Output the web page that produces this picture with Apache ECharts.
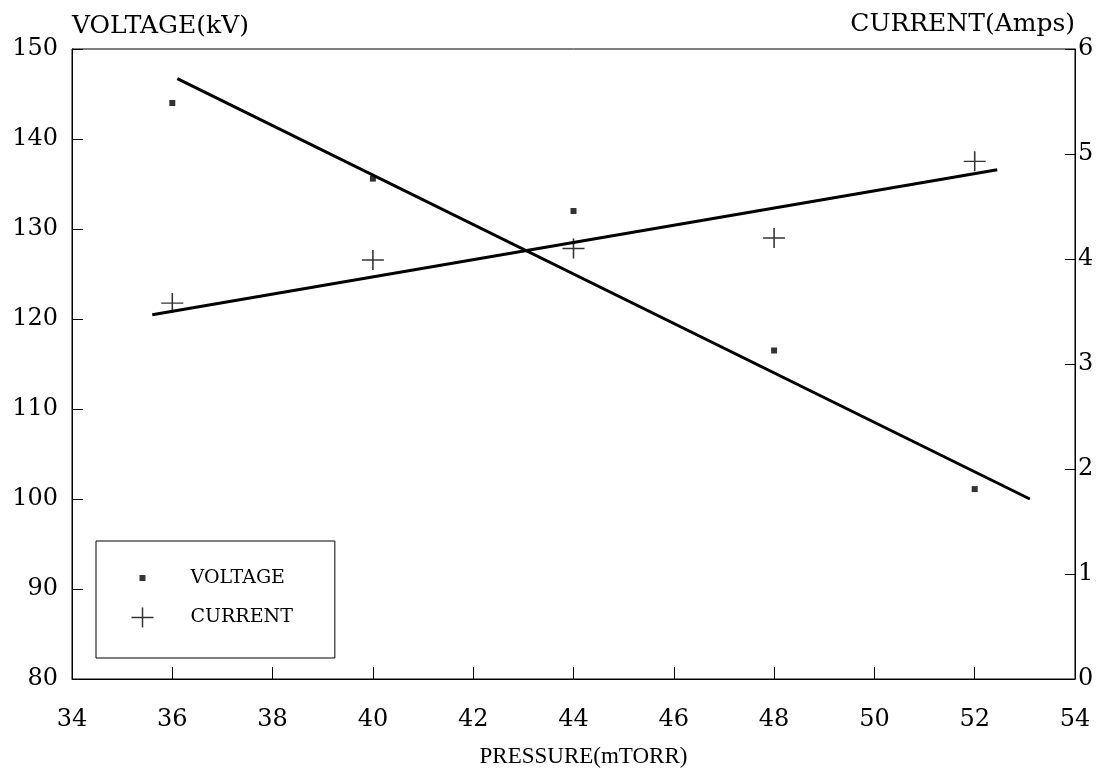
<!DOCTYPE html>
<html>
<head>
<meta charset="utf-8">
<script src="https://cdn.jsdelivr.net/npm/echarts@6/dist/echarts.min.js"></script>
<style>
  html, body { margin: 0; padding: 0; background: #fff; }
  #chart { width: 1113px; height: 777px; }
</style>
</head>
<body>
<div id="chart"></div>
<script>
// measured points
const pressure = [36, 40, 44, 48, 52];
const voltage = [144.0, 135.6, 132.0, 116.5, 101.1];
const current = [3.58, 3.99, 4.10, 4.20, 4.93];

// fitted lines (end points)
const voltageFitX = [36.1, 53.1];
const voltageFitY = [146.7, 100.0];
const currentFitX = [35.6, 52.45];
const currentFitY = [3.47, 4.85];

// axis ranges
const xRange = [34, 54, 2];
const voltRange = [80, 150, 10];
const ampRange = [0, 6, 1];

const DIGIT_FONT = "'DejaVu Serif', serif";
const NAME_FONT = "'Liberation Serif', 'DejaVu Serif', serif";
const BLACK = '#000';

const chart = echarts.init(document.getElementById('chart'), null, { renderer: 'canvas' });

function pairs(xs, ys) {
  return xs.map((x, i) => [x, ys[i]]);
}

const plusPath = 'path://M0,0 M54,20 M0,10 L22,10 M11,0 L11,20';
const dotPath = 'path://M0,0 M54,20 M8,7 L14,7 L14,13 L8,13 Z';

const axisCommon = {
  axisLine: { show: true, lineStyle: { color: BLACK, width: 1 } },
  axisTick: { show: true, inside: true, lineStyle: { color: BLACK, width: 1 } },
  splitLine: { show: false },
  axisLabel: { color: BLACK, fontFamily: DIGIT_FONT, fontSize: 24 },
  nameTextStyle: { color: BLACK, fontFamily: DIGIT_FONT, fontSize: 25 }
};

const option = {
  animation: false,
  backgroundColor: '#fff',
  grid: {
    left: 72, right: 38, top: 49, bottom: 98,
    show: true, borderColor: BLACK, borderWidth: 1
  },
  legend: {
    left: 96, top: 541,
    orient: 'vertical',
    itemWidth: 54, itemHeight: 20,
    itemGap: 17,
    padding: [27, 42, 28, 33],
    borderColor: BLACK, borderWidth: 1,
    textStyle: { color: BLACK, fontFamily: DIGIT_FONT, fontSize: 19 },
    data: [
      { name: 'VOLTAGE', icon: dotPath, itemStyle: { color: BLACK, borderWidth: 0 } },
      { name: 'CURRENT', icon: plusPath, itemStyle: { color: 'none', borderColor: BLACK, borderWidth: 1.5 } }
    ]
  },
  xAxis: Object.assign({}, axisCommon, {
    type: 'value',
    min: xRange[0], max: xRange[1], interval: xRange[2],
    axisTick: Object.assign({}, axisCommon.axisTick, { length: 12 }),
    axisLabel: Object.assign({}, axisCommon.axisLabel, { margin: 29 }),
    name: 'PRESSURE(mTORR)',
    nameLocation: 'middle',
    nameGap: 66,
    nameTextStyle: Object.assign({}, axisCommon.nameTextStyle, { fontFamily: NAME_FONT, fontSize: 23, padding: [0, 0, 0, 20] })
  }),
  yAxis: [
    Object.assign({}, axisCommon, {
      type: 'value',
      position: 'left',
      min: voltRange[0], max: voltRange[1], interval: voltRange[2],
      axisTick: Object.assign({}, axisCommon.axisTick, { length: 11 }),
      axisLabel: Object.assign({}, axisCommon.axisLabel, { margin: 14 }),
      name: 'VOLTAGE(kV)',
      nameLocation: 'end',
      nameGap: 10,
      nameTextStyle: Object.assign({}, axisCommon.nameTextStyle, { align: 'left' })
    }),
    Object.assign({}, axisCommon, {
      type: 'value',
      position: 'right',
      min: ampRange[0], max: ampRange[1], interval: ampRange[2],
      axisTick: Object.assign({}, axisCommon.axisTick, { length: 10 }),
      axisLabel: Object.assign({}, axisCommon.axisLabel, { margin: 3 }),
      name: 'CURRENT(Amps)',
      nameLocation: 'end',
      nameGap: 10,
      nameTextStyle: Object.assign({}, axisCommon.nameTextStyle, { align: 'right' })
    })
  ],
  series: [
    {
      name: 'VOLTAGE',
      type: 'scatter',
      yAxisIndex: 0,
      symbol: 'rect',
      symbolSize: 6,
      itemStyle: { color: BLACK },
      data: pairs(pressure, voltage)
    },
    {
      name: 'CURRENT',
      type: 'scatter',
      yAxisIndex: 1,
      symbol: 'path://M0,10 L22,10 M11,0 L11,20',
      symbolSize: [22, 20],
      itemStyle: { color: 'none', borderColor: BLACK, borderWidth: 1.5 },
      data: pairs(pressure, current)
    },
    {
      name: 'voltage fit',
      type: 'line',
      yAxisIndex: 0,
      showSymbol: false,
      lineStyle: { color: BLACK, width: 3 },
      data: pairs(voltageFitX, voltageFitY)
    },
    {
      name: 'current fit',
      type: 'line',
      yAxisIndex: 1,
      showSymbol: false,
      lineStyle: { color: BLACK, width: 3 },
      data: pairs(currentFitX, currentFitY)
    }
  ]
};

chart.setOption(option);
</script>
</body>
</html>
